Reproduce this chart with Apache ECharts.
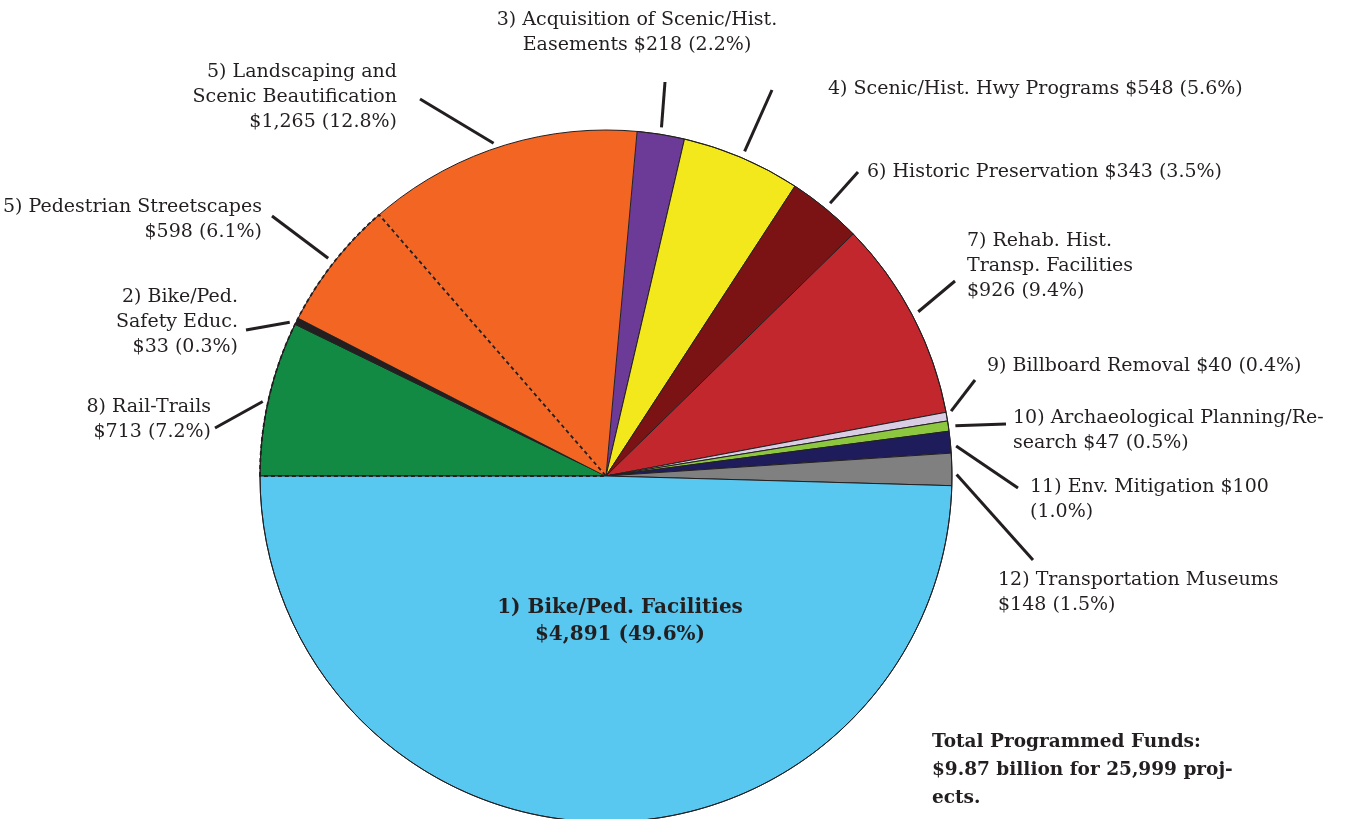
<!DOCTYPE html>
<html lang="en">
<head>
    <meta charset="UTF-8">
    <title>Transportation Enhancements funds</title>
    <script src="https://cdn.jsdelivr.net/npm/echarts@6/dist/echarts.min.js"></script>
    <style>
        html, body { margin: 0; padding: 0; background: #fff; }
        #chart_pie { width: 1348px; height: 819px; }
    </style>
</head>
<body>
<div id="chart_pie"></div>
<script>
    // programmed funds ($ millions), clockwise from 9 o'clock
    var names = ['8) Rail-Trails', '2) Bike/Ped.\nSafety Educ.', '5) Pedestrian Streetscapes',
        '5) Landscaping and\nScenic Beautification', '3) Acquisition of Scenic/Hist.\nEasements',
        '4) Scenic/Hist. Hwy Programs', '6) Historic Preservation', '7) Rehab. Hist.\nTransp. Facilities',
        '9) Billboard Removal', '10) Archaeological Planning/Re-\nsearch', '11) Env. Mitigation',
        '12) Transportation Museums', '1) Bike/Ped. Facilities'];
    var funds = [713, 33, 598, 1265, 218, 548, 343, 926, 40, 47, 100, 148, 4891];
    var pcts = ['7.2', '0.3', '6.1', '12.8', '2.2', '5.6', '3.5', '9.4', '0.4', '0.5', '1.0', '1.5', '49.6'];
    var sepAmt = ['\n', '\n', '\n', '\n', ' ', ' ', ' ', '\n', ' ', ' ', ' ', '\n', '\n'];
    var sepPct = [' ', ' ', ' ', ' ', ' ', ' ', ' ', ' ', ' ', ' ', '\n', ' ', ' '];
    var colors = ['#138a43', '#231f20', '#f26522', '#f26522', '#6c3b97', '#f2e81c', '#7b1315',
        '#c1272d', '#d9cde6', '#8dc63f', '#1f1c5c', '#808080', '#58c8f1'];
    var totalText = 'Total Programmed Funds:\n$9.87 billion for 25,999 proj-\nects.';

    // label anchor: x, top y, text align
    var labelPos = [
        [211, 395, 'right'], [238, 285, 'right'], [262, 195, 'right'], [397, 60, 'right'],
        [637, 8, 'center'], [828, 77, 'left'], [867, 160, 'left'], [967, 229, 'left'],
        [987, 354, 'left'], [1013, 406, 'left'], [1030, 475, 'left'], [998, 568, 'left'],
        [620, 594, 'center']
    ];
    // where each pointer leaves its label
    var pointerFrom = [
        [215, 428], [246, 330], [272, 216], [420, 99], [665, 82], [772, 90],
        [858, 172], [955, 281], [975, 380], [1006, 424], [1018, 488], [1033, 560], null
    ];

    var ink = '#231f20';
    var font = 'DejaVu Serif';
    var total = funds.reduce(function (a, b) { return a + b; }, 0);
    var firstThree = funds[0] + funds[1] + funds[2];

    var pieData = [];
    for (var i = 0; i < funds.length; i++) {
        var item = {
            name: names[i],
            value: funds[i],
            itemStyle: { color: colors[i], borderColor: ink, borderWidth: 1 }
        };
        if (i == 2 || i == 3) {
            item.itemStyle.borderWidth = 0;
        }
        if (i == funds.length - 1) {
            item.label = { fontWeight: 'bold', fontSize: 20, lineHeight: 27 };
            item.labelLine = { show: false };
        }
        pieData.push(item);
    }

    var center = [606, 476];
    var radius = 346;

    var option = {
        animation: false,
        title: {
            text: totalText,
            left: 932,
            top: 728,
            padding: 0,
            textStyle: { fontFamily: font, fontWeight: 'bold', fontSize: 18.5, lineHeight: 28, color: ink }
        },
        series: [
            {
                type: 'pie',
                center: center,
                radius: radius,
                startAngle: 180,
                clockwise: true,
                avoidLabelOverlap: false,
                label: {
                    show: true,
                    fontFamily: font,
                    fontSize: 19,
                    lineHeight: 25,
                    color: ink,
                    formatter: function (p) {
                        var k = p.dataIndex;
                        return names[k] + sepAmt[k] + '$' + funds[k].toLocaleString('en-US') + sepPct[k] + '(' + pcts[k] + '%)';
                    }
                },
                labelLine: {
                    show: true,
                    length: 10,
                    length2: 0,
                    smooth: false,
                    lineStyle: { color: ink, width: 3 }
                },
                labelLayout: function (params) {
                    var k = params.dataIndex;
                    var p = labelPos[k];
                    var res = { x: p[0], y: p[1], align: p[2], verticalAlign: 'top' };
                    var from = pointerFrom[k];
                    if (from && params.labelLinePoints) {
                        // slice end: the library's anchor on the rim, pulled back a little
                        var a = params.labelLinePoints[0];
                        var dx = from[0] - a[0], dy = from[1] - a[1];
                        var d = Math.sqrt(dx * dx + dy * dy) || 1;
                        var end = [a[0] + dx / d * 7, a[1] + dy / d * 7];
                        res.labelLinePoints = [end, from, from];
                    }
                    return res;
                },
                emphasis: { disabled: true },
                data: pieData
            },
            {
                // dashed divider between the two "5)" slices
                type: 'pie',
                center: center,
                radius: radius,
                startAngle: 180,
                silent: true,
                label: { show: false },
                labelLine: { show: false },
                emphasis: { disabled: true },
                data: [
                    { value: firstThree, itemStyle: { color: 'rgba(0,0,0,0)', borderColor: ink, borderWidth: 1.8, borderType: [4, 3] } },
                    { value: total - firstThree, itemStyle: { color: 'rgba(0,0,0,0)', borderWidth: 0 } }
                ]
            },
            {
                // outer outline
                type: 'pie',
                center: center,
                radius: radius,
                startAngle: 180,
                silent: true,
                label: { show: false },
                labelLine: { show: false },
                emphasis: { disabled: true },
                itemStyle: { color: 'rgba(0,0,0,0)', borderColor: ink, borderWidth: 1 },
                data: [{ value: total }]
            }
        ]
    };

    var chart_pie = echarts.init(document.getElementById('chart_pie'));
    chart_pie.setOption(option);
</script>
</body>
</html>
